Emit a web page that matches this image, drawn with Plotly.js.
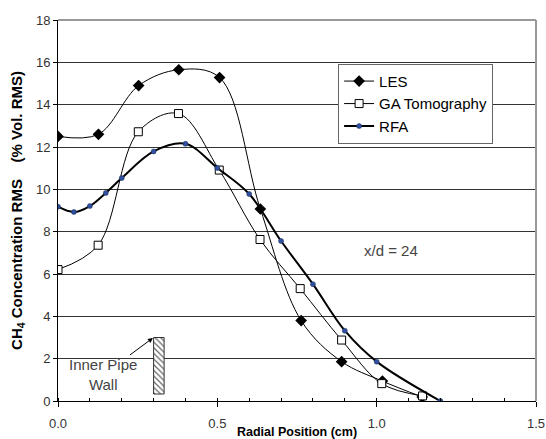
<!DOCTYPE html>
<html>
<head>
<meta charset="utf-8">
<script src="https://cdn.plot.ly/plotly-3.0.1.min.js"></script>
<style>html,body{margin:0;padding:0;background:#fff}#chart{width:546px;height:439px}</style>
</head>
<body>
<div id="chart"></div>
<script>
// Data
const lesX = [0.0, 0.127, 0.253, 0.379, 0.507, 0.635, 0.763, 0.890, 1.018, 1.143];
const lesY = [12.5, 12.6, 14.9, 15.65, 15.28, 9.07, 3.80, 1.86, 0.94, 0.19];

const gaX = [0.0, 0.126, 0.252, 0.378, 0.506, 0.634, 0.760, 0.890, 1.016, 1.144];
const gaY = [6.21, 7.36, 12.72, 13.58, 10.91, 7.63, 5.31, 2.88, 0.82, 0.24];

const rfaX = [0.0, 0.05, 0.1, 0.15, 0.2, 0.3, 0.4, 0.5, 0.6, 0.7, 0.8, 0.9, 1.0, 1.2];
const rfaY = [9.18, 8.93, 9.21, 9.83, 10.53, 11.79, 12.15, 11.01, 9.78, 7.56, 5.52, 3.32, 1.86, 0.0];

// Inner pipe wall box (data units)
const wallX = [0.30, 0.333, 0.333, 0.30, 0.30];
const wallY = [0.33, 0.33, 3.0, 3.0, 0.33];

const seriesNames = ['LES', 'GA Tomography', 'RFA'];
const xTickVals = [0, 0.5, 1.0, 1.5];
const xTickText = ['0.0', '0.5', '1.0', '1.5'];

const fontFam = 'Arial, "Liberation Sans", sans-serif';
const narrowFam = '"Liberation Sans Narrow", "Arial Narrow", Arial, sans-serif';

const traces = [
  {
    x: wallX, y: wallY, type: 'scatter', mode: 'lines',
    fill: 'toself', fillcolor: 'rgba(255,255,255,1)',
    fillpattern: {shape: '\\', size: 4, solidity: 0.3, fgcolor: '#666', bgcolor: '#fff'},
    line: {color: '#333', width: 1}, showlegend: false, hoverinfo: 'skip'
  },
  {
    x: lesX, y: lesY, name: seriesNames[0], type: 'scatter', mode: 'lines+markers',
    line: {color: '#000', width: 1, shape: 'spline', smoothing: 1},
    marker: {symbol: 'diamond', size: 9, color: '#000'}
  },
  {
    x: gaX, y: gaY, name: seriesNames[1], type: 'scatter', mode: 'lines+markers',
    line: {color: '#000', width: 1, shape: 'spline', smoothing: 1},
    marker: {symbol: 'square', size: 8, color: '#fff', line: {color: '#000', width: 1}}
  },
  {
    x: rfaX, y: rfaY, name: seriesNames[2], type: 'scatter', mode: 'lines+markers',
    line: {color: '#000', width: 2, shape: 'spline', smoothing: 1},
    marker: {symbol: 'circle', size: 5, color: '#2f4f9f', line: {color: '#1a2a55', width: 0.5}}
  }
];

const layout = {
  width: 546, height: 439,
  margin: {l: 58, r: 10, t: 20, b: 38},
  paper_bgcolor: '#fff', plot_bgcolor: '#fff',
  font: {family: fontFam, size: 13, color: '#333'},
  showlegend: true,
  legend: {
    x: 0.586, y: 0.885, xanchor: 'left', yanchor: 'top',
    bgcolor: '#fff', bordercolor: '#666', borderwidth: 1,
    font: {family: narrowFam, size: 15, color: '#000'},
    itemwidth: 30, tracegroupgap: 0
  },
  xaxis: {
    range: [0, 1.5], tickvals: xTickVals, ticktext: xTickText,
    ticks: 'outside', ticklen: 5, tickcolor: '#000',
    minor: {dtick: 0.1, ticks: 'inside', ticklen: 3, tickcolor: '#000', showgrid: false},
    showgrid: false, zeroline: false,
    showline: true, linecolor: '#000', linewidth: 1,
    ticklabelstandoff: 5,
    tickfont: {family: fontFam, size: 13, color: '#333'},
    title: {text: '<b>Radial Position (cm)</b>', font: {family: fontFam, size: 12.5, color: '#000'}, standoff: 0}
  },
  yaxis: {
    range: [0, 18], dtick: 2, tick0: 0,
    ticks: 'outside', ticklen: 4, tickcolor: '#000',
    showgrid: true, gridcolor: '#333', gridwidth: 1,
    zeroline: false, showline: true, linecolor: '#000', linewidth: 1,
    tickfont: {family: fontFam, size: 13, color: '#333'},
    title: {text: '<b>CH<sub>4</sub> Concentration RMS&nbsp;&nbsp;&nbsp; (% Vol. RMS)</b>', font: {family: fontFam, size: 15, color: '#000'}, standoff: 9}
  },
  shapes: [
    {type: 'line', xref: 'paper', yref: 'paper', x0: 0, x1: 1, y0: 1, y1: 1, line: {color: '#999', width: 2}},
    {type: 'line', xref: 'paper', yref: 'paper', x0: 1, x1: 1, y0: 0, y1: 1, line: {color: '#999', width: 2}}
  ],
  annotations: [
    {x: 1.045, y: 7.11, xref: 'x', yref: 'y', text: 'x/d = 24', showarrow: false,
     font: {family: narrowFam, size: 15, color: '#444'}},
    {x: 0.298, y: 2.98, xref: 'x', yref: 'y', text: 'Inner Pipe<br>Wall', showarrow: true,
     ax: -50, ay: 37, arrowhead: 2, arrowsize: 1, arrowwidth: 1, arrowcolor: '#000', standoff: 0,
     font: {family: narrowFam, size: 15, color: '#444'}}
  ]
};

Plotly.newPlot('chart', traces, layout, {staticPlot: true, displayModeBar: false});
</script>
</body>
</html>
